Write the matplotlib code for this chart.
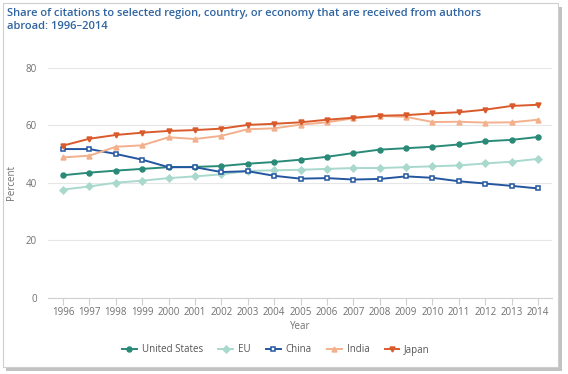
import matplotlib
matplotlib.use('Agg')
import matplotlib.pyplot as plt
from matplotlib.patches import Rectangle

plt.rcParams['font.family'] = ['Open Sans', 'DejaVu Sans']

years = list(range(1996, 2015))
united_states = [42.6, 43.5, 44.2, 44.8, 45.4, 45.5, 45.8, 46.6, 47.2, 48.0,
                 49.0, 50.3, 51.5, 52.0, 52.5, 53.3, 54.4, 54.9, 55.9]
eu = [37.6, 38.7, 40.0, 40.7, 41.6, 42.2, 42.9, 44.1, 44.3, 44.5,
      44.8, 45.1, 45.1, 45.4, 45.7, 46.0, 46.7, 47.3, 48.3]
china = [51.7, 51.7, 50.0, 48.0, 45.4, 45.4, 43.7, 44.0, 42.4, 41.4,
         41.6, 41.1, 41.3, 42.2, 41.7, 40.5, 39.7, 38.9, 38.0]
india = [48.8, 49.4, 52.5, 53.0, 55.8, 55.2, 56.3, 58.6, 58.9, 60.2,
         61.0, 62.4, 63.2, 62.9, 61.1, 61.2, 60.9, 61.0, 61.9]
japan = [52.9, 55.3, 56.6, 57.4, 58.0, 58.3, 58.8, 60.1, 60.5, 61.0,
         61.9, 62.6, 63.3, 63.5, 64.1, 64.5, 65.4, 66.7, 67.1]

fig = plt.figure(figsize=(5.68, 3.74), dpi=100)

# screenshot frame with a little shadow, kept behind the axes
fig.patches.append(Rectangle((6 / 568, 1 - 371 / 374), 556 / 568, 364 / 374,
                             transform=fig.transFigure, facecolor='#9a9a9a',
                             edgecolor='none', alpha=0.6, zorder=-3))
fig.patches.append(Rectangle((3 / 568, 1 - 367 / 374), 555 / 568, 364 / 374,
                             transform=fig.transFigure, facecolor='white',
                             edgecolor='#cfcfcf', linewidth=0.8, zorder=-2))

ax = fig.add_axes([48 / 568, 1 - 297.7 / 374, 504 / 568, 230 / 374])
ax.set_facecolor('none')

series = [
    ('United States', united_states, '#2a8a78', 'o', '#2a8a78'),
    ('EU', eu, '#a9d9cd', 'D', '#a9d9cd'),
    ('China', china, '#2456a0', 's', 'white'),
    ('India', india, '#f3b08d', '^', '#f3b08d'),
    ('Japan', japan, '#d95a2b', 'v', '#d95a2b'),
]
for name, vals, col, mk, fc in series:
    ax.plot(years, vals, color=col, linewidth=1.4, marker=mk, markersize=3.5,
            markerfacecolor=fc, markeredgecolor=col, markeredgewidth=1.1,
            label=name, zorder=3)

ax.set_xlim(1995.43, 2014.53)
ax.set_ylim(0, 80)
ax.set_yticks([0, 20, 40, 60, 80])
ax.set_xticks(years)
ax.grid(axis='y', color='#e6e6e6', linewidth=0.8)
ax.set_axisbelow(True)
for s in ['top', 'right', 'left']:
    ax.spines[s].set_visible(False)
ax.spines['bottom'].set_color('#d0d0d0')
ax.tick_params(axis='y', length=0, labelsize=7, labelcolor='#707070', pad=8)
ax.tick_params(axis='x', length=5, color='#d0d0d0', labelsize=7,
               labelcolor='#707070', pad=2)
ax.set_xlabel('Year', fontsize=7, color='#707070', labelpad=2)
ax.set_ylabel('Percent', fontsize=7, color='#707070', labelpad=6)

fig.text(7 / 568, 1 - 8 / 374,
         'Share of citations to selected region, country, or economy that are received from authors\nabroad: 1996\u20132014',
         fontsize=8, fontweight='semibold', color='#2f64a0', va='top',
         ha='left', linespacing=1.3)

fig.legend(loc='center', bbox_to_anchor=(276 / 568, 1 - 350 / 374), ncol=5,
           frameon=False, fontsize=7, handlelength=1.5, columnspacing=1.6,
           handletextpad=0.5, labelcolor='#555555')

fig.savefig('out.png', dpi=100)
